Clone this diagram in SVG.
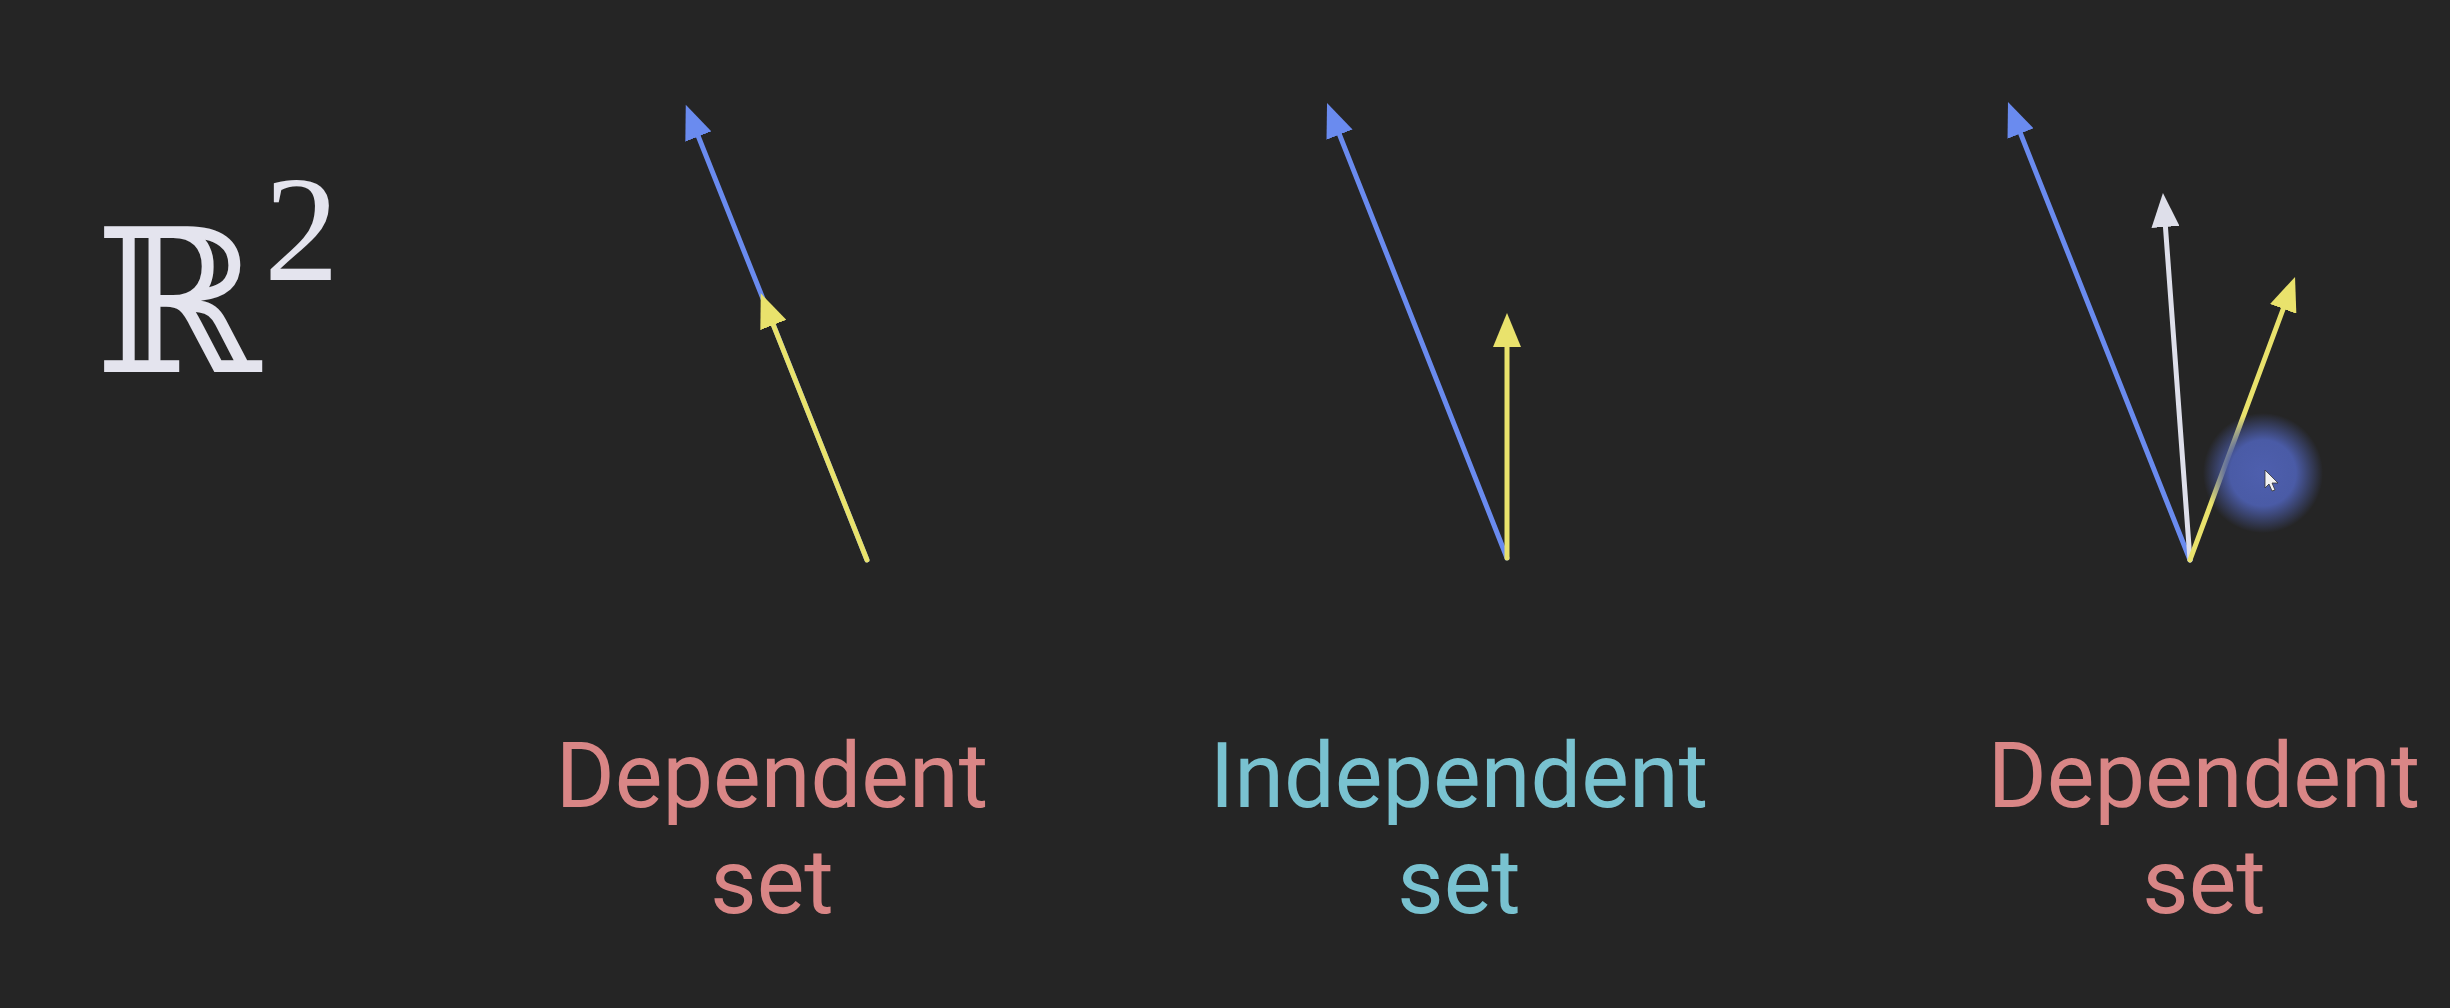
<svg xmlns="http://www.w3.org/2000/svg" width="2450" height="1008" viewBox="0 0 2450 1008">
<style>
.v{stroke-width:5;fill:none;stroke-linecap:round}
.b{stroke:#6a8bef}
.y{stroke:#e9e26c}
.w{stroke:#dedfea}
.lbl{font-family:Roboto,"Liberation Sans",sans-serif;font-size:90px;text-anchor:middle}
.dep{fill:#d98686}
.ind{fill:#79c2d0}
</style>
<defs>
<marker id="hb" markerUnits="userSpaceOnUse" markerWidth="36" markerHeight="28" viewBox="0 0 36 28" refX="2" refY="14" orient="auto"><path d="M0,0 L34,14 L0,28 z" fill="#6a8bef"/></marker>
<marker id="hy" markerUnits="userSpaceOnUse" markerWidth="36" markerHeight="28" viewBox="0 0 36 28" refX="2" refY="14" orient="auto"><path d="M0,0 L34,14 L0,28 z" fill="#e9e26c"/></marker>
<marker id="hw" markerUnits="userSpaceOnUse" markerWidth="36" markerHeight="28" viewBox="0 0 36 28" refX="2" refY="14" orient="auto"><path d="M0,0 L34,14 L0,28 z" fill="#dedfea"/></marker>
<radialGradient id="glow">
<stop offset="0" stop-color="#4e5fae"/>
<stop offset="0.55" stop-color="#4a5ba6"/>
<stop offset="1" stop-color="#4a5ba6" stop-opacity="0"/>
</radialGradient>
</defs>
<rect width="2450" height="1008" fill="#252525"/>
<g id="title">
<text x="95" y="372" font-family="'DejaVu Serif',serif" font-size="200" fill="#e4e4ee">ℝ</text>
<text x="264" y="280" font-family="'Liberation Serif',serif" font-size="150" fill="#e4e4ee">2</text>
</g>
<g id="connectors">
<g id="set1">
<line class="v b" x1="867" y1="560" x2="697.6" y2="134.6" marker-end="url(#hb)"/>
<line class="v y" x1="867" y1="560" x2="772.6" y2="323.1" marker-end="url(#hy)"/>
</g>
<g id="set2">
<line class="v b" x1="1507" y1="558" x2="1338.8" y2="132.8" marker-end="url(#hb)"/>
<line class="v y" x1="1507" y1="558" x2="1507" y2="345" marker-end="url(#hy)"/>
</g>
<g id="set3">
<line class="v b" x1="2190" y1="560" x2="2019.8" y2="131.7" marker-end="url(#hb)"/>
<line class="v w" x1="2190" y1="560" x2="2165.3" y2="224.9" marker-end="url(#hw)"/>
<line class="v y" x1="2190" y1="560" x2="2283.9" y2="307" marker-end="url(#hy)"/>
</g>
</g>
<g id="cursor">
<circle cx="2263" cy="473" r="60" fill="url(#glow)"/>
<path d="M2265,470 L2265,488 L2269,484 L2272,491 L2275,490 L2272,483 L2278,483 z" fill="#f2f2f2" stroke="#333" stroke-width="0.8"/>
</g>
<g id="label1">
<text class="lbl dep" x="772" y="807">Dependent</text>
<text class="lbl dep" x="772" y="913">set</text>
</g>
<g id="label2">
<text class="lbl ind" x="1459" y="807">Independent</text>
<text class="lbl ind" x="1459" y="913">set</text>
</g>
<g id="label3">
<text class="lbl dep" x="2204" y="807">Dependent</text>
<text class="lbl dep" x="2204" y="913">set</text>
</g>
</svg>
